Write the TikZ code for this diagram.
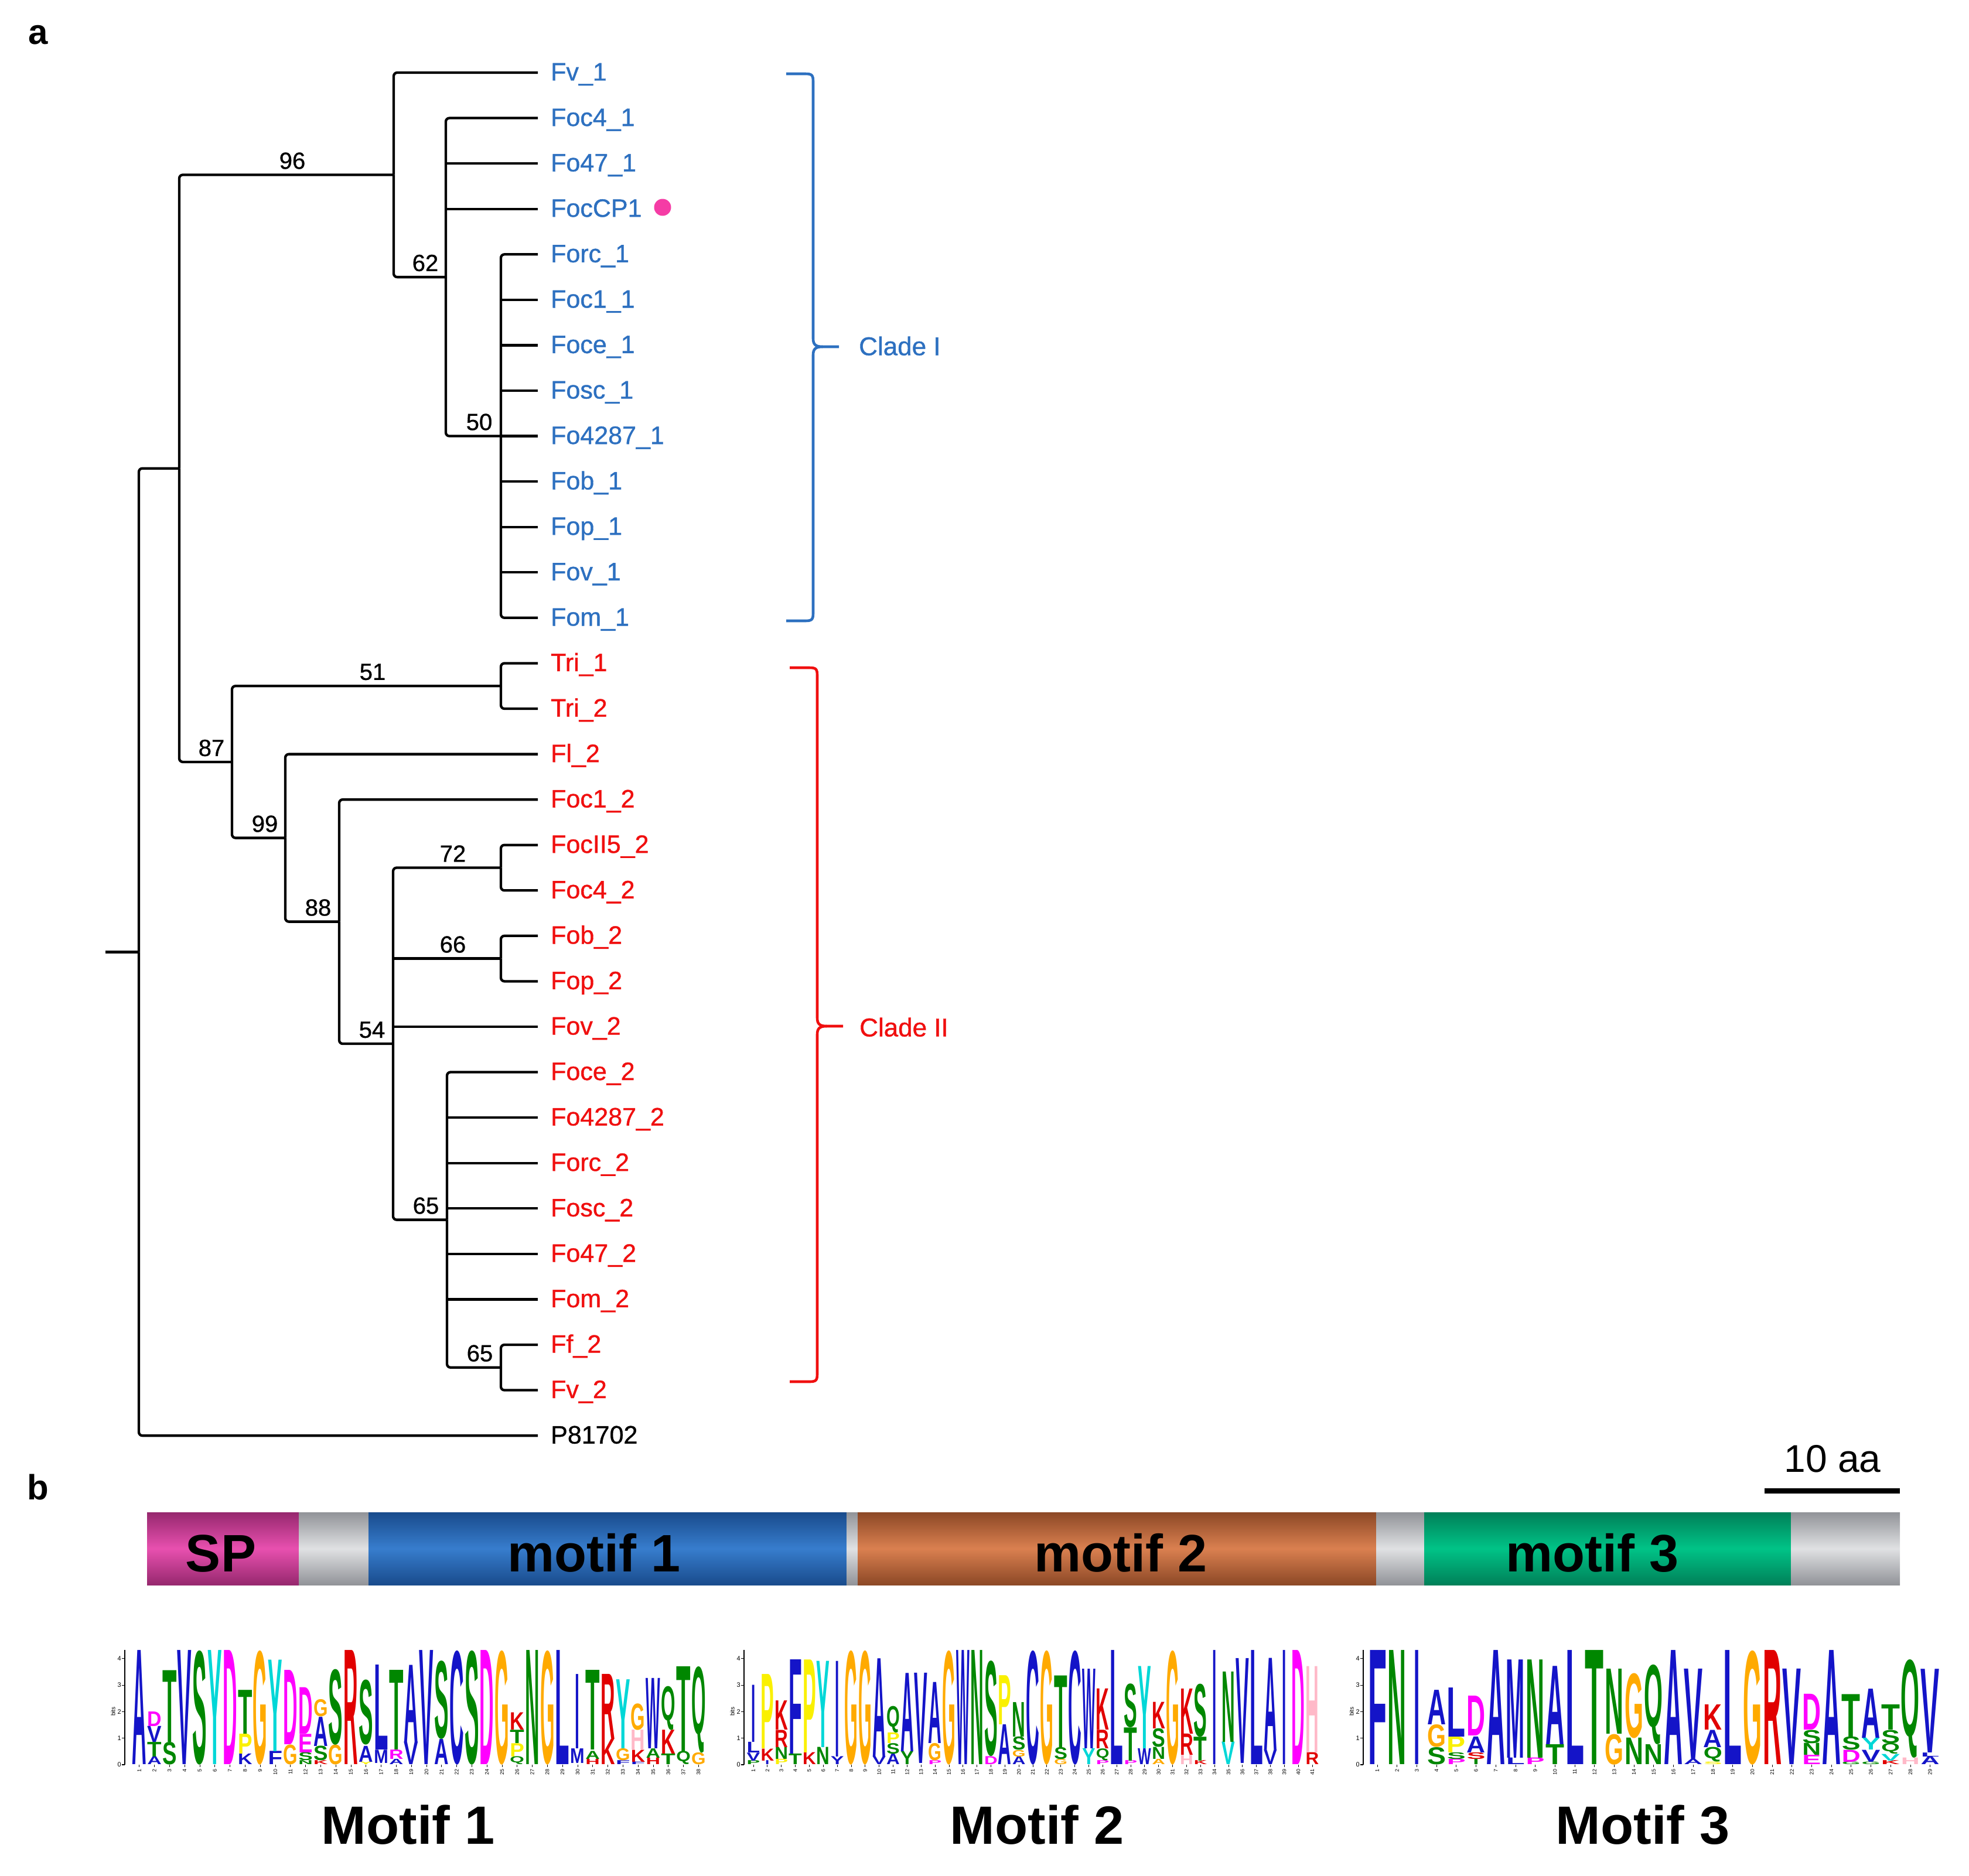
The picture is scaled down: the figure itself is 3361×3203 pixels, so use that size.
\documentclass[tikz,border=0pt]{standalone}
\usepackage{fontspec}
\setmainfont{Liberation Sans}
\newfontfamily\medfont{Liberation Sans}[FakeBold=0.9]
\usepackage{graphicx}
\newcommand{\setfs}[1]{\fontsize{#1}{#1}\selectfont}
\definecolor{cladeI}{RGB}{45,112,192}
\definecolor{cladeII}{RGB}{240,15,15}
\definecolor{dotpink}{RGB}{245,60,165}
\definecolor{LB}{RGB}{20,20,200}
\definecolor{LG}{RGB}{0,135,0}
\definecolor{LO}{RGB}{255,170,0}
\definecolor{LM}{RGB}{255,0,255}
\definecolor{LC}{RGB}{0,215,215}
\definecolor{LR}{RGB}{225,0,0}
\definecolor{LY}{RGB}{250,240,0}
\definecolor{LP}{RGB}{255,185,200}
\definecolor{SPd}{RGB}{150,40,110}
\definecolor{SPl}{RGB}{232,80,175}
\definecolor{Gd}{RGB}{145,147,152}
\definecolor{Gl}{RGB}{224,225,227}
\definecolor{MAd}{RGB}{25,75,140}
\definecolor{MAl}{RGB}{55,125,205}
\definecolor{MBd}{RGB}{140,72,38}
\definecolor{MBl}{RGB}{218,128,80}
\definecolor{MCd}{RGB}{0,128,88}
\definecolor{MCl}{RGB}{0,195,135}
\def\Ichar{I}
\newcommand{\drawlogo}[5]{%
  \foreach \pp/\bb/\tp/\lt/\cc in {#5}{%
    \pgfmathsetmacro{\xx}{#2+(\pp-1)*#3}%
    \pgfmathsetmacro{\hh}{(\tp-\bb)*45.3}%
    \pgfmathsetmacro{\yy}{3013-\bb*45.3}%
    \edef\tmpl{\lt}%
    \ifx\tmpl\Ichar\pgfmathsetmacro{\ww}{0.32*#4}\else\pgfmathsetmacro{\ww}{#4}\fi
    \node[inner sep=0pt, anchor=south, text=\cc] (#1-\pp-\lt) at (\xx,\yy) {\resizebox*{\ww pt}{\hh pt}{\bfseries\lt}};
  }%
}
\newcommand{\logoaxis}[5]{% id, axis x, x0, dx, n
  \draw[line width=1.5pt] (#2,3013) -- (#2,2817);
  \foreach \k in {0,...,4}{
    \draw[line width=1.2pt] (#2-5,3013-45.3*\k) -- (#2,3013-45.3*\k);
    \node[anchor=east, inner sep=1pt, font=\setfs{11}] (#1ax\k) at (#2-5,3013-45.3*\k) {\k};
  }
  \node[rotate=90, inner sep=0pt, font=\setfs{10}] (#1bits) at (#2-20,2922) {bits};
  \foreach \i in {1,...,#5}{
    \pgfmathsetmacro{\xx}{#3+(\i-1)*#4}
    \draw[line width=0.8pt] (\xx,3013) -- (\xx,3017);
    \node[rotate=90, anchor=east, inner sep=0pt, font=\setfs{9}] (#1n\i) at (\xx,3020) {\i};
  }
}
\begin{document}
\begin{tikzpicture}[x=1pt,y=-1pt,
  br/.style={line width=4.3pt, rounded corners=6pt},
  brk/.style={line width=4.6pt},
  leaf/.style={anchor=west, inner xsep=22pt, inner ysep=0pt, font=\medfont\setfs{43}, text height=33pt, text depth=6pt},
  cI/.style={leaf, text=cladeI},
  cII/.style={leaf, text=cladeII},
  cO/.style={leaf, text=black},
  bs/.style={anchor=south, inner sep=0pt, font=\medfont\setfs{40}, text depth=0pt},
  segtxt/.style={anchor=base, inner sep=0pt, font=\bfseries\setfs{90}},
]
\fill[white] (0,0) rectangle (3361,3203);
\useasboundingbox (0,0) rectangle (3361,3203);

% panel labels
\node[anchor=base, inner sep=0pt, font=\bfseries\setfs{60}] (pa) at (65,75.5) {a};
\node[anchor=base, inner sep=0pt, font=\bfseries\setfs{60}] (pb) at (65,2560) {b};

% leaves
\node[cI] (L0) at (918,124.0) {Fv\_1};
\node[cI] (L1) at (918,201.6) {Foc4\_1};
\node[cI] (L2) at (918,279.1) {Fo47\_1};
\node[cI] (L3) at (918,356.7) {FocCP1};
\node[cI] (L4) at (918,434.3) {Forc\_1};
\node[cI] (L5) at (918,511.9) {Foc1\_1};
\node[cI] (L6) at (918,589.4) {Foce\_1};
\node[cI] (L7) at (918,667.0) {Fosc\_1};
\node[cI] (L8) at (918,744.55) {Fo4287\_1};
\node[cI] (L9) at (918,822.1) {Fob\_1};
\node[cI] (L10) at (918,899.7) {Fop\_1};
\node[cI] (L11) at (918,977.3) {Fov\_1};
\node[cI] (L12) at (918,1054.8) {Fom\_1};
\node[cII] (L13) at (918,1132.4) {Tri\_1};
\node[cII] (L14) at (918,1210.0) {Tri\_2};
\node[cII] (L15) at (918,1287.6) {Fl\_2};
\node[cII] (L16) at (918,1365.1) {Foc1\_2};
\node[cII] (L17) at (918,1442.7) {FocII5\_2};
\node[cII] (L18) at (918,1520.3) {Foc4\_2};
\node[cII] (L19) at (918,1597.8) {Fob\_2};
\node[cII] (L20) at (918,1675.4) {Fop\_2};
\node[cII] (L21) at (918,1753.0) {Fov\_2};
\node[cII] (L22) at (918,1830.5) {Foce\_2};
\node[cII] (L23) at (918,1908.1) {Fo4287\_2};
\node[cII] (L24) at (918,1985.7) {Forc\_2};
\node[cII] (L25) at (918,2063.3) {Fosc\_2};
\node[cII] (L26) at (918,2140.8) {Fo47\_2};
\node[cII] (L27) at (918,2218.4) {Fom\_2};
\node[cII] (L28) at (918,2296.0) {Ff\_2};
\node[cII] (L29) at (918,2373.5) {Fv\_2};
\node[cO] (L30) at (918,2451.1) {P81702};

\node[circle, fill=dotpink, minimum size=29pt, inner sep=0pt] (dot) at (1131,354) {};

% internal nodes
\coordinate (rstub) at (180,1625.4);
\coordinate (root) at (237,1625.4);
\coordinate (nA) at (306,799.7);
\coordinate (nFv) at (672,298.5);
\coordinate (n62) at (761,473.1);
\coordinate (n50) at (855,744.55);
\coordinate (n87) at (396,1300.9);
\coordinate (n51) at (855,1171.2);
\coordinate (n99) at (487,1430.6);
\coordinate (n88) at (579,1573.6);
\coordinate (n54) at (671,1782.05);
\coordinate (n72) at (855,1481.5);
\coordinate (n66) at (855,1636.6);
\coordinate (n65) at (763,2082.6);
\coordinate (n65b) at (855,2334.75);

% branches
\draw[br] (rstub) -- (root);
\draw[br] (root) |- (nA);
\draw[br] (root) |- (L30.west);
\draw[br] (nA) |- (nFv);
\draw[br] (nA) |- (n87);
\draw[br] (nFv) |- (L0.west);
\draw[br] (nFv) |- (n62);
\draw[br] (n62) |- (L1.west);
\draw[br] (n62) |- (n50);
\draw[br] (n62 |- L2.west) -- (L2.west);
\draw[br] (n62 |- L3.west) -- (L3.west);
\draw[br] (n50) |- (L4.west);
\draw[br] (n50) |- (L12.west);
\foreach \j in {5,6,7,8,9,10,11}{\draw[br] (n50 |- L\j.west) -- (L\j.west);}
\draw[br] (n87) |- (n51);
\draw[br] (n87) |- (n99);
\draw[br] (n51) |- (L13.west);
\draw[br] (n51) |- (L14.west);
\draw[br] (n99) |- (L15.west);
\draw[br] (n99) |- (n88);
\draw[br] (n88) |- (L16.west);
\draw[br] (n88) |- (n54);
\draw[br] (n54) |- (n72);
\draw[br] (n54) |- (n65);
\draw[br] (n54 |- n66) -- (n66);
\draw[br] (n54 |- L21.west) -- (L21.west);
\draw[br] (n72) |- (L17.west);
\draw[br] (n72) |- (L18.west);
\draw[br] (n66) |- (L19.west);
\draw[br] (n66) |- (L20.west);
\draw[br] (n65) |- (L22.west);
\draw[br] (n65) |- (n65b);
\foreach \j in {23,24,25,26,27}{\draw[br] (n65 |- L\j.west) -- (L\j.west);}
\draw[br] (n65b) |- (L28.west);
\draw[br] (n65b) |- (L29.west);

% bootstrap values
\node[bs] (s96) at (499,288.5) {96};
\node[bs] (s62) at (726,463) {62};
\node[bs] (s50) at (818,734.5) {50};
\node[bs] (s51) at (636,1161) {51};
\node[bs] (s87) at (361,1291) {87};
\node[bs] (s99) at (452,1420.5) {99};
\node[bs] (s88) at (543,1563.5) {88};
\node[bs] (s54) at (635,1772) {54};
\node[bs] (s72) at (773,1471.5) {72};
\node[bs] (s66) at (773,1626.5) {66};
\node[bs] (s65) at (727,2072.5) {65};
\node[bs] (s65b) at (819,2324.5) {65};

% clade brackets
\draw[brk, cladeI] (1342,126) -- (1374,126) .. controls (1386,126) and (1388,128) .. (1388,140) -- (1388,578) .. controls (1388,588) and (1392,592) .. (1404,592) -- (1432,592);
\draw[brk, cladeI] (1404,592) .. controls (1392,592) and (1388,596) .. (1388,606) -- (1388,1046) .. controls (1388,1058) and (1386,1060) .. (1374,1060) -- (1342,1060);
\node[anchor=west, inner sep=0pt, text=cladeI, font=\medfont\setfs{44}, text height=31pt, text depth=0pt] (cl1) at (1466,591) {Clade I};
\draw[brk, cladeII] (1348,1140) -- (1381,1140) .. controls (1393,1140) and (1395,1142) .. (1395,1154) -- (1395,1738) .. controls (1395,1748) and (1399,1752) .. (1411,1752) -- (1439,1752);
\draw[brk, cladeII] (1411,1752) .. controls (1399,1752) and (1395,1756) .. (1395,1766) -- (1395,2345) .. controls (1395,2357) and (1393,2359) .. (1381,2359) -- (1348,2359);
\node[anchor=west, inner sep=0pt, text=cladeII, font=\medfont\setfs{44}, text height=31pt, text depth=0pt] (cl2) at (1467,1754) {Clade II};

% scale bar
\coordinate (sbL) at (3012,2545);
\coordinate (sbR) at (3243,2545);
\draw[line width=9pt] (sbL) -- (sbR);
\node[anchor=base, inner sep=0pt, font=\setfs{66}] (sblab) at (3128,2513) {10 aa};

% domain bar
\shade[top color=SPd, bottom color=SPd, middle color=SPl] (251,2582) rectangle (510,2706);
\shade[top color=Gd, bottom color=Gd, middle color=Gl] (510,2582) rectangle (629,2706);
\shade[top color=MAd, bottom color=MAd, middle color=MAl] (629,2582) rectangle (1445,2706);
\shade[top color=Gd, bottom color=Gd, middle color=Gl] (1445,2582) rectangle (1464,2706);
\shade[top color=MBd, bottom color=MBd, middle color=MBl] (1464,2582) rectangle (2349,2706);
\shade[top color=Gd, bottom color=Gd, middle color=Gl] (2349,2582) rectangle (2431,2706);
\shade[top color=MCd, bottom color=MCd, middle color=MCl] (2431,2582) rectangle (3057,2706);
\shade[top color=Gd, bottom color=Gd, middle color=Gl] (3057,2582) rectangle (3243,2706);
\node[segtxt] (tSP) at (377,2683) {SP};
\node[segtxt] (tm1) at (1014,2683) {motif 1};
\node[segtxt] (tm2) at (1913,2683) {motif 2};
\node[segtxt] (tm3) at (2718,2683) {motif 3};

% logo axes
\logoaxis{a}{213}{237.7}{25.8}{38}
\logoaxis{b}{1270}{1286}{23.85}{41}
\logoaxis{c}{2327}{2351}{33.7}{29}

% logo 1
\drawlogo{m1}{237.7}{25.8}{24.5}{
1/0/4.3/A/LB,
2/0/0.3/A/LB, 2/0.3/0.85/T/LG, 2/0.85/1.45/V/LB, 2/1.45/2.0/D/LM,
3/0/0.85/S/LG, 3/0.85/3.55/T/LG,
4/0/4.3/V/LB,
5/0/4.3/S/LG,
6/0/4.3/Y/LC,
7/0/4.3/D/LM,
8/0/0.4/K/LB, 8/0.4/1.15/P/LY, 8/1.15/2.8/T/LG,
9/0/4.3/G/LO,
10/0/0.5/F/LB, 10/0.5/3.95/Y/LC,
11/0/0.75/G/LO, 11/0.75/3.55/D/LM,
12/0/0.15/N/LG, 12/0.15/0.45/S/LG, 12/0.45/1.15/E/LM, 12/1.15/2.9/D/LM,
13/0/0.15/K/LR, 13/0.15/0.7/S/LG, 13/0.7/1.8/A/LB, 13/1.8/2.45/G/LO,
14/0/0.75/G/LO, 14/0.75/3.6/S/LG,
15/0/4.3/R/LR,
16/0/0.1/Y/LY, 16/0.1/0.7/A/LB, 16/0.75/3.2/S/LG,
17/0.05/0.55/M/LB, 17/0.55/3.75/L/LB,
18/0/0.2/A/LB, 18/0.2/0.55/R/LM, 18/0.55/3.55/T/LG,
19/0/0.85/V/LB, 19/0.85/3.75/A/LB,
20/0/4.3/V/LB,
21/0/0.95/A/LB, 21/0.95/3.9/S/LG,
22/0/4.3/C/LB,
23/0/4.3/S/LG,
24/0/4.3/D/LM,
25/0/4.3/G/LO,
26/0/0.3/Q/LG, 26/0.3/0.8/P/LY, 26/0.8/1.3/T/LG, 26/1.3/1.95/K/LR,
27/0/4.3/N/LG,
28/0/4.3/G/LO,
29/0/4.3/L/LB,
30/0.05/0.6/M/LB, 30/0.6/3.4/I/LB,
31/0/0.2/H/LR, 31/0.2/0.5/A/LG, 31/0.55/3.55/T/LG,
32/0/0.95/K/LR, 32/0.95/3.4/R/LR,
33/0/0.15/F/LB, 33/0.15/0.6/G/LO, 33/0.6/3.2/Y/LC,
34/0/0.1/F/LB, 34/0.1/0.55/K/LR, 34/0.55/1.3/H/LP, 34/1.3/2.3/G/LO,
35/0/0.25/H/LR, 35/0.25/0.6/A/LG, 35/0.6/3.25/W/LB,
36/0/0.4/T/LG, 36/0.4/1.3/K/LR, 36/1.3/2.95/Q/LG,
37/0/0.5/Q/LG, 37/0.5/3.7/T/LG,
38/0/0.45/G/LO, 38/0.45/3.7/Q/LG}

% logo 2
\drawlogo{m2}{1286}{23.85}{22.7}{
1/0/0.15/P/LG, 1/0.15/0.45/V/LB, 1/0.45/0.85/L/LB, 1/0.85/3.0/I/LB,
2/0/0.15/I/LB, 2/0.15/0.6/K/LR, 2/0.6/3.4/P/LY,
3/0/0.2/P/LY, 3/0.2/0.65/N/LG, 3/0.65/1.3/R/LR, 3/1.3/2.4/K/LR,
4/0/0.4/T/LG, 4/0.4/3.95/F/LB,
5/0/0.45/K/LR, 5/0.45/3.95/P/LY,
6/0/0.65/N/LG, 6/0.65/3.9/Y/LC,
7/0/0.3/Y/LB, 7/0.3/3.9/I/LB,
8/0/4.3/G/LO,
9/0/4.3/G/LO,
10/0/0.3/V/LB, 10/0.3/4.0/A/LB,
11/0/0.4/A/LB, 11/0.4/0.8/S/LG, 11/0.8/1.2/P/LY, 11/1.2/2.2/Q/LG,
12/0/0.5/Y/LG, 12/0.5/3.45/A/LB,
13/0.05/3.45/V/LB,
14/0/0.15/P/LM, 14/0.15/0.8/G/LO, 14/0.8/3.1/A/LB,
15/0/4.3/G/LO,
16/0/4.3/W/LB,
17/0/4.3/N/LG,
18/0/0.3/D/LM, 18/0.3/3.9/S/LG,
19/0/1.5/A/LB, 19/1.5/3.35/P/LY,
20/0/0.3/A/LB, 20/0.3/0.55/G/LO, 20/0.55/1.05/S/LG, 20/1.05/2.35/N/LG,
21/0/4.3/C/LB,
22/0/4.3/G/LO,
23/0/0.2/G/LO, 23/0.2/0.65/S/LG, 23/0.65/3.35/T/LG,
24/0/4.3/C/LB,
25/0/0.6/Y/LC, 25/0.6/3.6/W/LB,
26/0/0.15/P/LM, 26/0.15/0.6/Q/LG, 26/0.6/1.3/R/LR, 26/1.3/2.85/K/LR,
27/0/4.3/L/LB,
28/0/0.15/P/LM, 28/0.15/1.4/T/LG, 28/1.4/3.05/S/LG,
29/0/0.6/W/LB, 29/0.6/3.7/Y/LC,
30/0/0.2/A/LO, 30/0.2/0.65/N/LG, 30/0.65/1.35/S/LG, 30/1.35/2.35/K/LR,
31/0/4.3/G/LO,
32/0/0.35/H/LP, 32/0.35/1.15/R/LR, 32/1.15/2.85/K/LR,
33/0/0.15/K/LR, 33/0.15/1.05/T/LG, 33/1.05/3.05/S/LG,
34/0/4.3/I/LB,
35/0/0.85/V/LC, 35/0.85/3.5/N/LG,
36/0.05/4.0/V/LB,
37/0/4.3/L/LB,
38/0/0.55/V/LB, 38/0.55/4.0/A/LB,
39/0/4.3/I/LB,
40/0/4.3/D/LM,
41/0/0.45/R/LR, 41/0.45/3.7/H/LP}

% logo 3
\drawlogo{m3}{2351}{33.7}{32}{
1/0/4.3/F/LB,
2/0/4.3/N/LG,
3/0/4.3/I/LB,
4/0/0.65/S/LG, 4/0.65/1.5/G/LO, 4/1.5/2.8/A/LB,
5/0/0.2/P/LM, 5/0.2/0.45/S/LG, 5/0.45/1.05/P/LY, 5/1.05/2.9/L/LB,
6/0/0.2/I/LG, 6/0.2/0.45/S/LR, 6/0.45/1.05/A/LB, 6/1.1/2.6/D/LM,
7/0/4.3/A/LB,
8/0/0.25/L/LB, 8/0.25/3.95/M/LB,
9/0/0.25/P/LM, 9/0.25/3.95/N/LG,
10/0/0.75/T/LG, 10/0.75/3.7/A/LB,
11/0/4.3/L/LB,
12/0/4.3/T/LG,
13/0/1.15/G/LO, 13/1.15/3.6/N/LG,
14/0/1.0/N/LG, 14/1.0/3.45/G/LO,
15/0/0.75/N/LG, 15/0.75/3.75/Q/LG,
16/0/4.3/A/LB,
17/0/0.2/A/LB, 17/0.2/3.6/V/LB,
18/0/0.1/S/LY, 18/0.1/0.65/Q/LG, 18/0.65/1.3/A/LB, 18/1.3/2.25/K/LR,
19/0/4.3/L/LB,
20/0/4.3/G/LO,
21/0/4.3/R/LR,
22/0/3.6/V/LB,
23/0/0.35/E/LM, 23/0.35/0.8/N/LG, 23/0.8/1.3/S/LG, 23/1.3/2.65/D/LM,
24/0/4.3/A/LB,
25/0/0.1/G/LG, 25/0.1/0.55/D/LM, 25/0.55/1.05/S/LG, 25/1.05/2.65/T/LG,
26/0/0.1/G/LG, 26/0.1/0.55/V/LB, 26/0.55/1.0/Y/LC, 26/1.0/2.85/A/LB,
27/0/0.15/K/LR, 27/0.15/0.4/V/LC, 27/0.4/0.8/Q/LG, 27/0.8/1.3/S/LG, 27/1.3/2.25/T/LG,
28/0/0.25/H/LP, 28/0.25/3.95/Q/LG,
29/0/0.3/A/LB, 29/0.3/0.45/L/LB, 29/0.45/3.6/V/LB}

% motif titles
\node[anchor=base, inner sep=0pt, font=\bfseries\setfs{92}] (mt1) at (697,3148) {Motif 1};
\node[anchor=base, inner sep=0pt, font=\bfseries\setfs{92}] (mt2) at (1770,3148) {Motif 2};
\node[anchor=base, inner sep=0pt, font=\bfseries\setfs{92}] (mt3) at (2804,3148) {Motif 3};
\end{tikzpicture}
\end{document}
